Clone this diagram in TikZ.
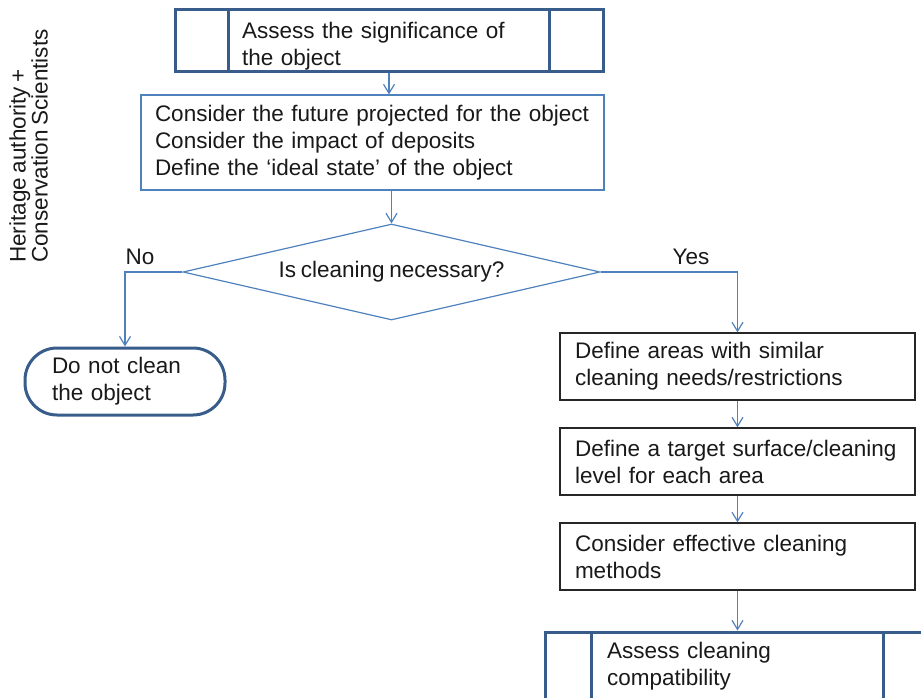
\documentclass[tikz,border=0pt]{standalone}
\usepackage{fontspec}
\setmainfont{Liberation Sans}[WordSpace=0.75]
\usetikzlibrary{arrows.meta,shapes.geometric}
\definecolor{darkblue}{HTML}{385D8A}
\definecolor{lineblue}{HTML}{4F81BD}

\begin{document}
\begin{tikzpicture}[
  x=1pt, y=-1pt,
  every node/.style = {font=\fontsize{22.5}{27}\selectfont, text=black!90, inner sep=0pt},
  thickbox/.style = {draw=darkblue, line width=3pt, rectangle},
  bluebox/.style = {draw=lineblue, line width=1.2pt, rectangle, align=left},
  blackbox/.style = {draw=black!85, line width=1.3pt, rectangle, minimum width=355pt, minimum height=67pt, text width=325pt, align=left},
  flow/.style = {-{Straight Barb[length=9pt,width=11pt]}, draw=lineblue, line width=1.2pt}
]
  \clip (0,0) rectangle (921,698);

  % who does it
  \node[rotate=90, anchor=north west, align=left, font=\fontsize{22.5}{22}\selectfont] (team) at (9,263)
    {Heritage authority +\\Conservation Scientists};

  % first part: decide
  \node[thickbox, minimum width=428pt, minimum height=62pt] (sig) at (389,41) {};
  \node[text width=294pt, align=left] (sigtext) at (389,46) {Assess the significance of\\the object};
  \draw[darkblue, line width=3pt] ([xshift=55pt]sig.north west) -- ([xshift=55pt]sig.south west);
  \draw[darkblue, line width=3pt] ([xshift=-55pt]sig.north east) -- ([xshift=-55pt]sig.south east);

  \node[bluebox, minimum width=463pt, minimum height=95pt, text width=435pt] (consider) at (372.5,142.5)
    {Consider the future projected for the object\\Consider the impact of deposits\\Define the `ideal state' of the object};

  \node[diamond, aspect=4.34, draw=lineblue, line width=1.2pt, minimum width=417pt, minimum height=96pt] (q) at (391.5,272)
    {Is cleaning necessary?};

  \node[draw=darkblue, line width=3pt, rounded corners=32pt, minimum width=200pt, minimum height=67pt,
        text width=146pt, align=left] (noclean) at (125,381.5)
    {Do not clean\\the object};

  % second part: cleaning
  \node[blackbox] (areas) at (737.5,366.5) {Define areas with similar\\cleaning needs/restrictions};
  \node[blackbox] (target) at (737.5,461.5) {Define a target surface/cleaning\\level for each area};
  \node[blackbox] (methods) at (737.5,556.5) {Consider effective cleaning\\methods};

  \node[thickbox, minimum width=385pt, minimum height=68pt, text width=261pt, align=left] (compat) at (737.5,666)
    {Assess cleaning\\compatibility};
  \draw[darkblue, line width=3pt] ([xshift=48pt]compat.north west) -- ([xshift=48pt]compat.south west);
  \draw[darkblue, line width=3pt] ([xshift=-48pt]compat.north east) -- ([xshift=-48pt]compat.south east);

  % connectors
  \draw[flow] (sig.south) -- (sig.south |- consider.north);
  \draw[flow] (q.north |- consider.south) -- (q.north);
  \draw[flow] (q.west) -| node[pos=0.37, above=7pt] (no) {No} (noclean.north);
  \draw[flow] (q.east) -| node[pos=0.33, above=7pt] (yes) {Yes} (areas.north);
  \draw[flow] (areas) -- (target);
  \draw[flow] (target) -- (methods);
  \draw[flow] (methods) -- (compat);
\end{tikzpicture}
\end{document}
